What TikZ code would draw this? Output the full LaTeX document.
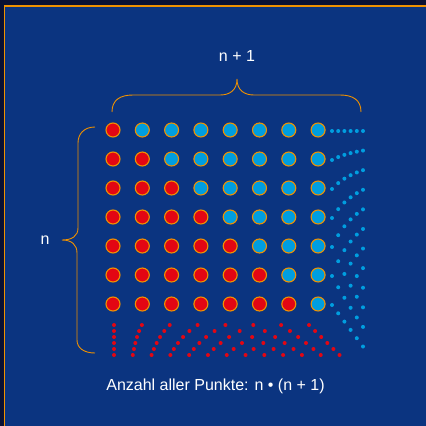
\documentclass[tikz,border=0pt]{standalone}
\usepackage{fontspec}
\setmainfont{Liberation Sans}
\usepackage{tikz}

\definecolor{bgnavy}{RGB}{11,52,128}
\definecolor{bgdark}{RGB}{10,17,52}
\definecolor{ptorange}{RGB}{240,145,0}
\definecolor{ptred}{RGB}{227,6,19}
\definecolor{ptblue}{RGB}{0,158,224}

\tikzset{
  pt/.style={circle,draw=ptorange,line width=1.1pt,minimum size=14pt,inner sep=0pt},
  brc/.style={draw=ptorange,line width=0.9pt},
  txt/.style={text=white,inner sep=0pt,font=\fontsize{16}{19}\selectfont}
}

\begin{document}
\begin{tikzpicture}[x=1pt,y=-1pt]
    \useasboundingbox (0,0) rectangle (426,426);
    \clip (0,0) rectangle (426,426);
    \fill[bgdark] (0,0) rectangle (426,426);
    \filldraw[fill=bgnavy,draw=ptorange,line width=1.3pt] (4.5,6) rectangle (440,440);

    % n rows, n+1 columns
    \foreach \r in {1,...,7}
      \foreach \c in {1,...,8}{
        \ifnum\c>\r \def\fc{ptblue}\else\def\fc{ptred}\fi
        \node[pt,fill=\fc] (p-\r-\c) at ({113+29.3*(\c-1)},{130+29*(\r-1)}) {};
      }

    % more rows on the right
    \foreach \s in {0,...,5}{
      \pgfmathtruncatemacro\m{6+\s}
      \pgfmathsetmacro\gap{(174+8.3*\s)/\m}
      \foreach \k in {0,...,\m}
        \fill[ptblue] ({332+6.2*\s},{131+\k*\gap}) circle[radius=2pt];
    }

    % more columns below
    \foreach \t in {0,...,5}{
      \pgfmathtruncatemacro\m{7+\t}
      \pgfmathsetmacro\gap{(195+6.1*\t)/\m}
      \foreach \k in {0,...,\m}
        \fill[ptred] ({114+\k*\gap},{325+6*\t}) circle[radius=2pt];
    }

    % braces
    \draw[brc] (112,112) .. controls (112,100) and (120,95) .. (133,95)
      -- (220,95) .. controls (230,95) and (237,90) .. (237,79)
      .. controls (237,90) and (244,95) .. (254,95)
      -- (340,95) .. controls (353,95) and (361,100) .. (361,112);
    \draw[brc] (95,127) .. controls (84,127) and (78,134) .. (78,143)
      -- (78,228) .. controls (78,236) and (72,240) .. (62,240)
      .. controls (72,240) and (77,245) .. (77,253)
      -- (77,340) .. controls (77,348) and (84,353) .. (95,353);

    \node[txt] (topLabel) at (237,56) {n + 1};
    \node[txt] (sideLabel) at (45,240) {n};
    \node[txt] (sumLabel) at (215.5,386) {Anzahl aller Punkte: n • (n + 1)};
  \end{tikzpicture}
\end{document}
